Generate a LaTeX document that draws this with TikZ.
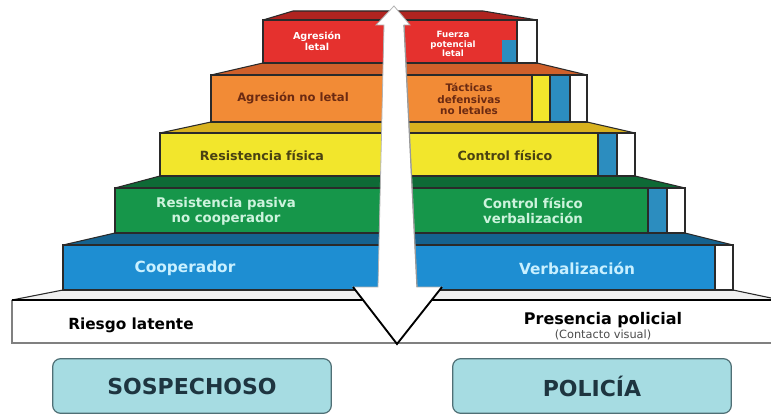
\documentclass[tikz,border=0pt]{standalone}
\usepackage{fontspec}
\setmainfont{DejaVu Sans}
\definecolor{redT}{HTML}{E5312E}
\definecolor{redTop}{HTML}{B02420}
\definecolor{orT}{HTML}{F28B36}
\definecolor{orTop}{HTML}{D0602A}
\definecolor{yeT}{HTML}{F2E62C}
\definecolor{yeTop}{HTML}{D8B21E}
\definecolor{grT}{HTML}{16964A}
\definecolor{grTop}{HTML}{0E6A36}
\definecolor{blT}{HTML}{1E8ED2}
\definecolor{blTop}{HTML}{15628F}
\definecolor{stripB}{HTML}{2C8DBF}
\definecolor{btnF}{HTML}{A6DCE2}
\definecolor{btnD}{HTML}{4F6F75}
\definecolor{btnT}{HTML}{1E3540}
\definecolor{orTx}{HTML}{6B2A12}
\definecolor{yeTx}{HTML}{4A4212}
\definecolor{grTx}{HTML}{CDF3DD}
\definecolor{blTx}{HTML}{C9F0FF}
\definecolor{lineC}{HTML}{2A2A2A}
\begin{document}
\begin{tikzpicture}[x=0.75pt,y=-0.75pt,
  tierline/.style={draw=lineC,line width=0.8pt},
  lbl/.style={align=center,inner sep=0pt},
  btn/.style={draw=btnD,line width=0.9pt,fill=btnF,rounded corners=6pt,
    minimum width=209pt,minimum height=41pt,text=btnT,
    font=\bfseries\fontsize{16.5}{18}\selectfont}]
\useasboundingbox (0,0) rectangle (771,417);
\fill[white] (0,0) rectangle (771,417);

% base
\fill[white] (12,300) rectangle (771,343);
\fill[gray!12] (12,300) -- (63,290) -- (733,290) -- (771,297) -- (771,300) -- cycle;
\draw[gray,line width=0.8pt] (12,300) -- (12,343) -- (771,343);
\draw[lineC,line width=0.8pt] (12,300) -- (63,290) (733,290) -- (771,298);
\draw[black,line width=1.6pt] (12,300) -- (771,300);

% blue tier
\fill[blTop] (63,245) -- (115,233) -- (685,233) -- (733,245) -- cycle;
\fill[blT] (63,245) rectangle (715,290);
\fill[white] (715,245) rectangle (733,290);
\draw[tierline] (63,245) rectangle (733,290) (715,245) -- (715,290);
\draw[tierline] (63,245) -- (115,233) (685,233) -- (733,245);

% green tier
\fill[grTop] (115,188) -- (160,176) -- (635,176) -- (685,188) -- cycle;
\fill[grT] (115,188) rectangle (648,233);
\fill[stripB] (648,188) rectangle (667,233);
\fill[white] (667,188) rectangle (685,233);
\draw[tierline] (115,188) rectangle (685,233) (648,188) -- (648,233) (667,188) -- (667,233);
\draw[tierline] (115,188) -- (160,176) (635,176) -- (685,188);

% yellow tier
\fill[yeTop] (160,133) -- (211,122) -- (587,122) -- (635,133) -- cycle;
\fill[yeT] (160,133) rectangle (598,176);
\fill[stripB] (598,133) rectangle (617,176);
\fill[white] (617,133) rectangle (635,176);
\draw[tierline] (160,133) rectangle (635,176) (598,133) -- (598,176) (617,133) -- (617,176);
\draw[tierline] (160,133) -- (211,122) (587,122) -- (635,133);

% orange tier
\fill[orTop] (211,75) -- (263,63) -- (537,63) -- (587,75) -- cycle;
\fill[orT] (211,75) rectangle (532,122);
\fill[yeT] (532,75) rectangle (550,122);
\fill[stripB] (550,75) rectangle (570,122);
\fill[white] (570,75) rectangle (587,122);
\draw[tierline] (211,75) rectangle (587,122) (532,75) -- (532,122) (550,75) -- (550,122) (570,75) -- (570,122);
\draw[tierline] (211,75) -- (263,63) (537,63) -- (587,75);

% red tier
\fill[redTop] (263,20) -- (293,11) -- (483,11) -- (537,20) -- cycle;
\fill[redT] (263,20) rectangle (517,63);
\fill[stripB] (502,40) rectangle (517,63);
\fill[white] (517,20) rectangle (537,63);
\draw[tierline] (263,20) rectangle (537,63) (517,20) -- (517,63);
\draw[tierline] (263,20) -- (293,11) -- (483,11) -- (537,20);

% double arrow
\filldraw[fill=white,draw=gray!60,line width=0.6pt]
  (394,6) -- (410,25) -- (404,25) -- (417,287) -- (442,287) -- (397,344)
  -- (353,287) -- (378,287) -- (384,25) -- (376,25) -- cycle;
\draw[gray!80,line width=0.9pt] (404,25) -- (417,287);
\draw[black,line width=1.4pt] (353,287) -- (397,344) -- (442,287);

% labels
\node[lbl,text=white,font=\bfseries\fontsize{7.2}{8.2}\selectfont] (t1l) at (317,41) {Agresión\\letal};
\node[lbl,text=white,font=\bfseries\fontsize{6.5}{7.3}\selectfont] (t1r) at (453,44) {Fuerza\\potencial\\letal};
\node[lbl,text=orTx,font=\bfseries\fontsize{8.7}{9.5}\selectfont] (t2l) at (293,98) {Agresión no letal};
\node[lbl,text=orTx,font=\bfseries\fontsize{7.8}{8.4}\selectfont] (t2r) at (469,99) {Tácticas\\defensivas\\no letales};
\node[lbl,text=yeTx,font=\bfseries\fontsize{9.5}{10.5}\selectfont] (t3l) at (262,156) {Resistencia física};
\node[lbl,text=yeTx,font=\bfseries\fontsize{9.5}{10.5}\selectfont] (t3r) at (505,156) {Control físico};
\node[lbl,text=grTx,font=\bfseries\fontsize{10}{11}\selectfont] (t4l) at (226,211) {Resistencia pasiva\\no cooperador};
\node[lbl,text=grTx,font=\bfseries\fontsize{10}{11}\selectfont] (t4r) at (533,211) {Control físico\\verbalización};
\node[lbl,text=blTx,font=\bfseries\fontsize{11.5}{13}\selectfont] (t5l) at (185,268) {Cooperador};
\node[lbl,text=blTx,font=\bfseries\fontsize{11.5}{13}\selectfont] (t5r) at (577,268) {Verbalización};
\node[lbl,text=black,font=\bfseries\fontsize{11.5}{12.5}\selectfont,anchor=west] (b1) at (68,325) {Riesgo latente};
\node[lbl,text=black,font=\bfseries\fontsize{12}{13}\selectfont] (b2) at (603,320) {Presencia policial};
\node[lbl,text=black!70,font=\fontsize{8.5}{9.5}\selectfont] (b3) at (603,335) {(Contacto visual)};

% buttons
\node[btn] (sosp) at (192,386) {SOSPECHOSO};
\node[btn] (poli) at (592,386) {POLICÍA};
\end{tikzpicture}
\end{document}
